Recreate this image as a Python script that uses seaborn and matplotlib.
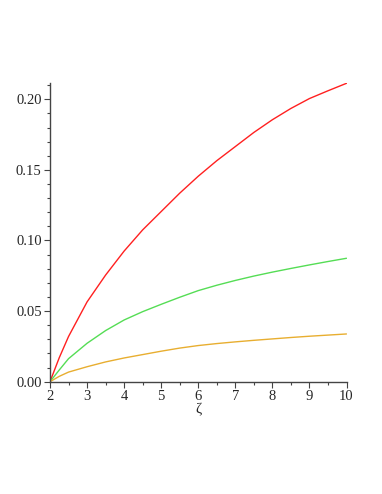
import matplotlib
matplotlib.use("Agg")
import matplotlib.pyplot as plt
from matplotlib.ticker import MultipleLocator, FormatStrFormatter
import seaborn as sns
import pandas as pd

zeta = [2, 2.25, 2.5, 3, 3.5, 4, 4.5, 5, 5.5, 6, 6.5, 7, 7.5, 8, 8.5, 9, 9.5, 10]
red = [0.0, 0.017, 0.032, 0.0565, 0.0755, 0.0925, 0.1075, 0.1205, 0.1335, 0.1455,
       0.1565, 0.1665, 0.1765, 0.1855, 0.1935, 0.2005, 0.206, 0.2113]
green = [0.0, 0.0083, 0.0163, 0.0272, 0.0362, 0.0437, 0.0496, 0.0548, 0.0598, 0.0645,
         0.0683, 0.0717, 0.0748, 0.0776, 0.0802, 0.0827, 0.0851, 0.0874]
orange = [0.0, 0.0038, 0.0068, 0.0106, 0.014, 0.0168, 0.0192, 0.0216, 0.0238, 0.0256,
          0.027, 0.0282, 0.0293, 0.0303, 0.0313, 0.0322, 0.033, 0.0338]

df = pd.DataFrame({"zeta": zeta, "red": red, "green": green, "orange": orange})
long = df.melt(id_vars="zeta", var_name="curve", value_name="value")

sns.set_style("ticks")
plt.rcParams["font.family"] = ["Liberation Serif", "DejaVu Serif"]

fig = plt.figure(figsize=(3.82, 4.94), dpi=100)
ax = fig.add_axes([50 / 382, 1 - 381.7 / 494, 296.5 / 382, 298.4 / 494])

sns.lineplot(data=long, x="zeta", y="value", hue="curve",
             palette={"red": "#ff2020", "green": "#55dd55", "orange": "#e8ae30"},
             linewidth=1.0, legend=False, ax=ax)

ax.set_xlim(2, 10)
ax.set_ylim(0, 0.2113)
ax.xaxis.set_major_locator(MultipleLocator(1))
ax.xaxis.set_minor_locator(MultipleLocator(0.5))
ax.yaxis.set_major_locator(MultipleLocator(0.05))
ax.yaxis.set_minor_locator(MultipleLocator(0.01))
ax.yaxis.set_major_formatter(FormatStrFormatter("%.2f"))
for s in ["top", "right"]:
    ax.spines[s].set_visible(False)
for s in ["left", "bottom"]:
    ax.spines[s].set_color("#444444")
    ax.spines[s].set_linewidth(1.0)
ax.tick_params(which="major", length=4, width=0.8, color="#444444", labelsize=10.5, pad=2)
ax.tick_params(which="minor", length=2.5, width=0.8, color="#444444")
ax.set_xlabel("ζ", fontsize=11, labelpad=0)
ax.set_ylabel("")

fig.savefig("out.png", dpi=100)
